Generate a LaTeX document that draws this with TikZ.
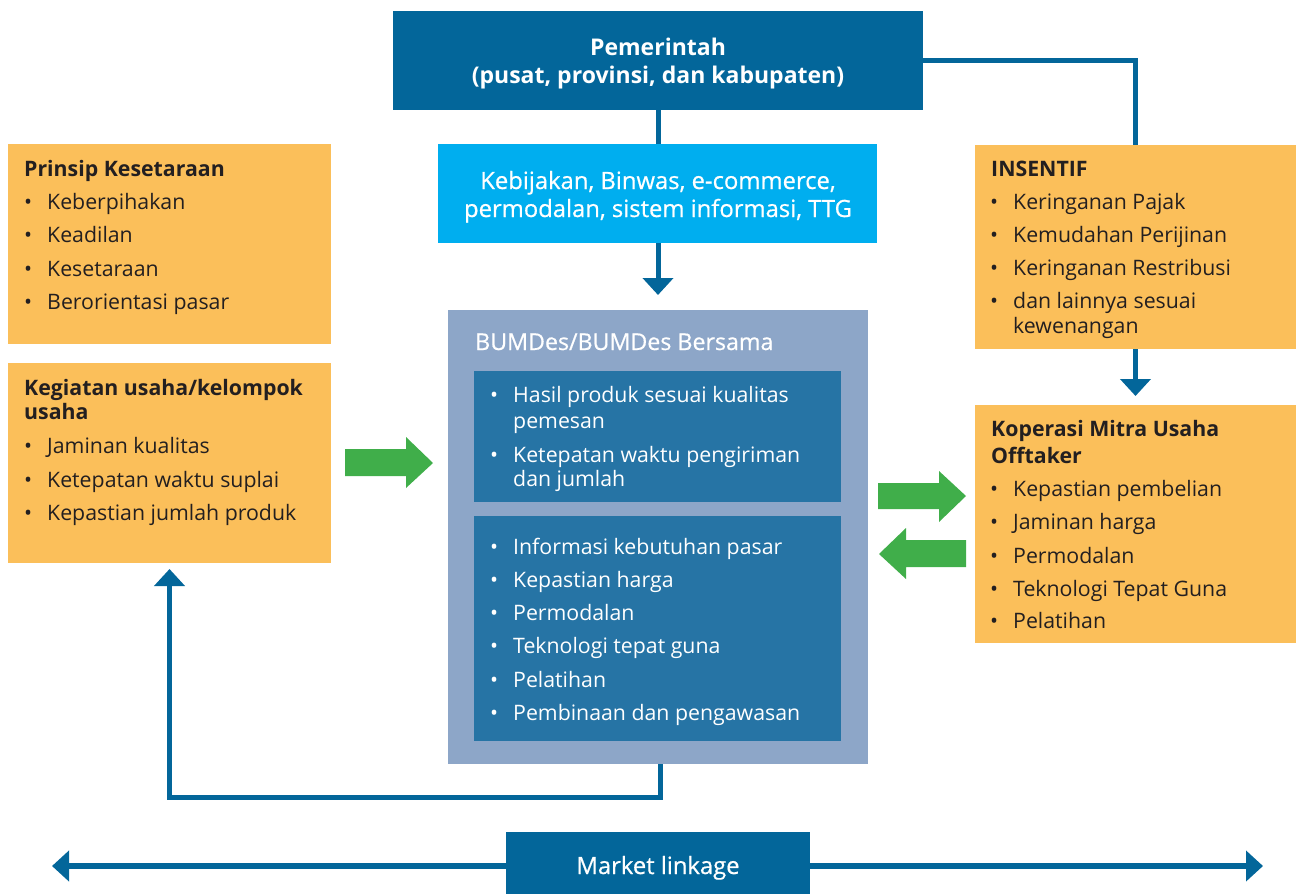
\documentclass[tikz,border=0pt]{standalone}
\usepackage{fontspec}
\setmainfont{Open Sans}
\newfontfamily\semib{Open Sans}[FakeBold=0.6]
\usetikzlibrary{arrows.meta}
\definecolor{dblue}{HTML}{03669A}
\definecolor{cyanbox}{HTML}{00AEEF}
\definecolor{orangebox}{HTML}{FBBF5A}
\definecolor{bumouter}{HTML}{8DA6C8}
\definecolor{buminner}{HTML}{2674A5}
\definecolor{garrow}{HTML}{40AE4A}
\definecolor{tdark}{HTML}{231F20}
\begin{document}
\begin{tikzpicture}[x=1pt,y=-1pt,
  box/.style={anchor=north west, inner sep=0, outer sep=0, draw=none},
  conn/.style={draw=dblue, line width=5pt},
  tipd/.style={-{Triangle[width=30pt,length=17pt]}},
  t/.style={anchor=base west, inner sep=0, font=\fontsize{21.3}{25}\selectfont, text=tdark},
  tb/.style={t, font=\fontsize{21.3}{25}\selectfont\bfseries},
  tw/.style={t, text=white},
  tc/.style={anchor=base, inner sep=0, font=\semib\fontsize{23.8}{28}\selectfont, text=white},
  tcb/.style={anchor=base, inner sep=0, font=\fontsize{23}{28}\selectfont\bfseries, text=white},
  garr/.style={fill=garrow, draw=none}
]
\useasboundingbox (0,0) rectangle (1296,894);

% boxes
\node[box, fill=dblue, minimum width=530pt, minimum height=99pt] (pem) at (393,11) {};
\node[box, fill=cyanbox, minimum width=439pt, minimum height=99pt] (keb) at (438,144) {};
\node[box, fill=orangebox, minimum width=323pt, minimum height=200pt] (prin) at (8,144) {};
\node[box, fill=orangebox, minimum width=323pt, minimum height=200pt] (keg) at (8,363) {};
\node[box, fill=bumouter, minimum width=420pt, minimum height=454pt] (bum) at (448,310) {};
\node[box, fill=buminner, minimum width=367pt, minimum height=131pt] (bin1) at (474,371) {};
\node[box, fill=buminner, minimum width=367pt, minimum height=225pt] (bin2) at (474,516) {};
\node[box, fill=orangebox, minimum width=321pt, minimum height=204pt] (ins) at (975,145) {};
\node[box, fill=orangebox, minimum width=321pt, minimum height=238pt] (kop) at (975,405) {};
\node[box, fill=dblue, minimum width=304pt, minimum height=62pt] (ml) at (506,832) {};

% connectors
\draw[conn] (pem.south) -- (pem.south |- keb.north);
\draw[conn, tipd, shorten >=15pt] (pem.south |- keb.south) -- (pem.south |- bum.north);
\draw[conn] (pem.east) -| (ins.north);
\draw[conn, tipd, shorten >=9pt] (ins.south) -- (kop.north);
\draw[conn, tipd, shorten >=6pt] ([xshift=2.5pt]bum.south) -- ++(0,33) -| (keg.south);
\coordinate (mlL) at (52,866);
\coordinate (mlR) at (1263,866);
\draw[draw=dblue, line width=6pt, -{Triangle[width=30pt,length=17pt]}] (ml.west |- mlL) -- (mlL);
\draw[draw=dblue, line width=6pt, -{Triangle[width=30pt,length=17pt]}] (ml.east |- mlR) -- (mlR);

% green arrows
\fill[garr] (345,449) -- (406,449) -- (406,437) -- (433,463) -- (406,488) -- (406,476) -- (345,476) -- cycle;
\fill[garr] (878,483) -- (939,483) -- (939,471) -- (966,496) -- (939,522) -- (939,509) -- (878,509) -- cycle;
\fill[garr] (966,540) -- (906,540) -- (906,528) -- (879,554) -- (906,579) -- (906,567) -- (966,567) -- cycle;

% Pemerintah
\node[tcb] (pem1) at (658,55) {Pemerintah};
\node[tcb] (pem2) at (658,83) {(pusat, provinsi, dan kabupaten)};
% Kebijakan
\node[tc] (keb1) at (658,189) {Kebijakan, Binwas, e-commerce,};
\node[tc] (keb2) at (658,217) {permodalan, sistem informasi, TTG};
% Market linkage
\node[tc] (mlt) at (658,874) {Market linkage};

% Prinsip
\node[tb] (prT) at (24,176) {Prinsip Kesetaraan};
\foreach \y/\s [count=\i] in {209/Keberpihakan, 242/Keadilan, 276/Kesetaraan, 309/Berorientasi pasar}{
  \node[t] (prb\i) at (24,\y) {•};
  \node[t] (pri\i) at (47,\y) {\s};
}
% Kegiatan
\node[tb] (kgT1) at (24,395) {Kegiatan usaha/kelompok};
\node[tb] (kgT2) at (24,419) {usaha};
\foreach \y/\s [count=\i] in {453/Jaminan kualitas, 487/Ketepatan waktu suplai, 520/Kepastian jumlah produk}{
  \node[t] (kgb\i) at (24,\y) {•};
  \node[t] (kgi\i) at (47,\y) {\s};
}
% BUMDes
\node[tw, font=\semib\fontsize{23.2}{28}\selectfont] (bmT) at (475,350) {BUMDes/BUMDes Bersama};
\node[tw] (b1b1) at (490,402) {•};
\node[tw] (b1i1) at (513,402) {Hasil produk sesuai kualitas};
\node[tw] (b1i1b) at (513,428) {pemesan};
\node[tw] (b1b2) at (490,462) {•};
\node[tw] (b1i2) at (513,462) {Ketepatan waktu pengiriman};
\node[tw] (b1i2b) at (513,486) {dan jumlah};
\foreach \y/\s [count=\i] in {554/Informasi kebutuhan pasar, 587/Kepastian harga, 620/Permodalan, 653/Teknologi tepat guna, 687/Pelatihan, 720/Pembinaan dan pengawasan}{
  \node[tw] (b2b\i) at (490,\y) {•};
  \node[tw] (b2i\i) at (513,\y) {\s};
}
% INSENTIF
\node[tb] (inT) at (991,176) {INSENTIF};
\foreach \y/\s [count=\i] in {209/Keringanan Pajak, 242/Kemudahan Perijinan, 275/Keringanan Restribusi, 308/dan lainnya sesuai}{
  \node[t] (inb\i) at (990,\y) {•};
  \node[t] (ini\i) at (1013,\y) {\s};
}
\node[t] (ini5) at (1013,333) {kewenangan};
% Koperasi
\node[tb] (kpT1) at (991,436) {Koperasi Mitra Usaha};
\node[tb] (kpT2) at (991,463) {Offtaker};
\foreach \y/\s [count=\i] in {496/Kepastian pembelian, 529/Jaminan harga, 563/Permodalan, 596/Teknologi Tepat Guna, 628/Pelatihan}{
  \node[t] (kpb\i) at (990,\y) {•};
  \node[t] (kpi\i) at (1013,\y) {\s};
}
\end{tikzpicture}
\end{document}
